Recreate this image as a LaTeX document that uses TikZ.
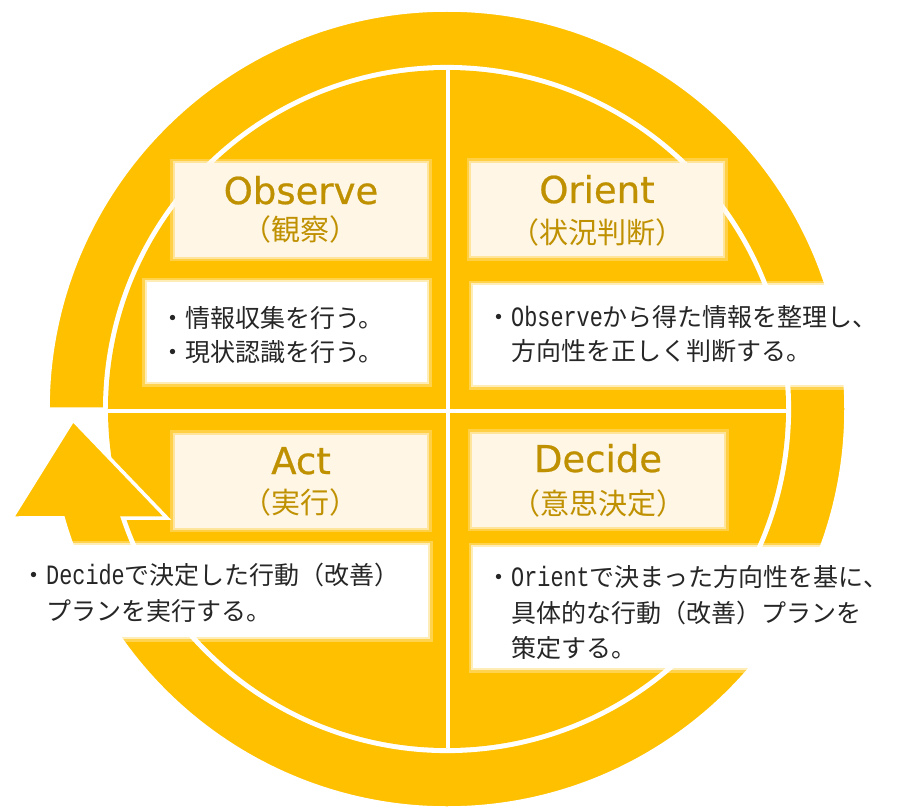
\documentclass[tikz,border=0pt]{standalone}
\usepackage{fontspec}
\setmainfont{Noto Sans CJK JP}
\newfontfamily\jpfont{Noto Sans CJK JP}
\newfontfamily\hwfont[Scale=1.12,FakeStretch=0.78]{Liberation Mono}
\newfontfamily\ttlfont[FakeBold=0.6]{DejaVu Sans}
\definecolor{ringY}{HTML}{FFC000}
\definecolor{cream}{HTML}{FFF6E5}
\definecolor{gold}{HTML}{BF9000}
\definecolor{txt}{HTML}{262626}
\newcommand{\hwt}[1]{{\hwfont #1}}
\tikzset{
  titlebox/.style={fill=cream, draw=cream, draw opacity=0.55, line width=4pt,
    preaction={draw=cream, draw opacity=0.3, line width=9pt},
    minimum width=252pt, minimum height=93pt, inner sep=0pt},
  textbox/.style={fill=white, draw=white, draw opacity=0.6, line width=4pt,
    preaction={draw=white, draw opacity=0.3, line width=9pt},
    inner sep=0pt},
  ttl/.style={anchor=base, inner sep=0pt, text=gold, font=\ttlfont\fontsize{37}{37}\selectfont},
  subttl/.style={anchor=base, inner sep=0pt, text=gold, font=\jpfont\fontsize{29}{29}\selectfont},
  body/.style={anchor=base west, inner sep=0pt, text=txt, font=\jpfont\fontsize{25}{25}\selectfont},
  sepline/.style={white, line width=3.5pt}
}
\begin{document}
\begin{tikzpicture}[x=1pt,y=1pt]
\useasboundingbox (-447,-400) rectangle (468,409);
\fill[white] (-447,-400) rectangle (468,409);
% inner disc
\fill[ringY] (0,0) circle (339);
% cross
\draw[sepline] (1,-339) -- (1,339);
\draw[sepline] (-339,-2) -- (339,-2);
% circular arrow
\filldraw[fill=ringY, draw=white, line width=3.5pt, line join=miter]
  (180:399) arc[start angle=180, end angle=-164.15, radius=399]
  -- (-435,-109) -- (-374,-11) -- (-280,-109) -- (-324.4,-109)
  arc[start angle=-161.43, end angle=180, radius=342.25] -- cycle;
% title boxes
\node[titlebox] (obsbox) at (-146,199) {};
\node[titlebox] (oribox) at (150,199.5) {};
\node[titlebox] (actbox) at (-146,-72) {};
\node[titlebox] (decbox) at (151,-71) {};
% text boxes
\node[textbox, minimum width=280pt, minimum height=100pt] (obstb) at (-160,77) {};
\node[textbox, minimum width=439pt, minimum height=100pt] (oritb) at (245.5,74) {};
\node[textbox, minimum width=421pt, minimum height=92pt] (acttb) at (-229.5,-182) {};
\node[textbox, minimum width=437pt, minimum height=121pt] (dectb) at (244.5,-198.5) {};
% titles
\node[ttl] (obst) at (-146,205) {Observe};
\node[subttl] (obss) at (-146,168) {（観察）};
\node[ttl] (orit) at (150,206) {Orient};
\node[subttl] (oris) at (150,166) {（状況判断）};
\node[ttl] (actt) at (-146,-65) {Act};
\node[subttl] (acts) at (-146,-104) {（実行）};
\node[ttl] (dect) at (151,-63) {Decide};
\node[subttl] (decs) at (151,-105) {（意思決定）};
% body texts
\node[body] (obsbody) at (-287,81.5) {\vtop{\baselineskip=34pt
  \hbox{・情報収集を行う。}\hbox{・現状認識を行う。}}};
\node[body] (oribody) at (39,82.5) {\vtop{\baselineskip=34pt
  \hbox{・\hwt{Observe}から得た情報を整理し、}\hbox{\phantom{・}方向性を正しく判断する。}}};
\node[body] (actbody) at (-426,-175.5) {\vtop{\baselineskip=36pt
  \hbox{・\hwt{Decide}で決定した行動（改善）}\hbox{\phantom{・}プランを実行する。}}};
\node[body] (decbody) at (39,-177.5) {\vtop{\baselineskip=35.5pt
  \hbox{・\hwt{Orient}で決まった方向性を基に、}\hbox{\phantom{・}具体的な行動（改善）プランを}\hbox{\phantom{・}策定する。}}};
\end{tikzpicture}
\end{document}
